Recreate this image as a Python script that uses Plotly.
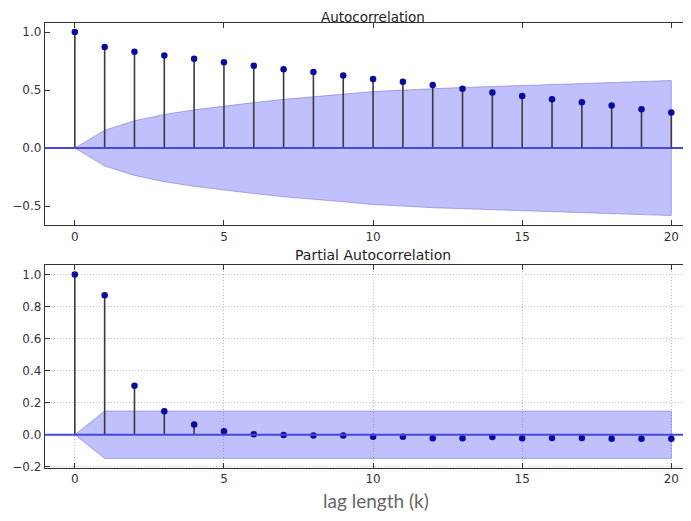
import plotly.graph_objects as go

lags = list(range(21))
acf_vals = [1.0, 0.872, 0.830, 0.798, 0.770, 0.741, 0.710, 0.679, 0.656, 0.625,
            0.596, 0.571, 0.543, 0.511, 0.480, 0.449, 0.420, 0.395, 0.366, 0.335, 0.307]
acf_band = [0.0, 0.154, 0.236, 0.290, 0.330, 0.364, 0.392, 0.420, 0.443, 0.463,
            0.487, 0.500, 0.514, 0.523, 0.531, 0.540, 0.548, 0.557, 0.565, 0.574, 0.582]
pacf_vals = [1.0, 0.870, 0.305, 0.146, 0.064, 0.021, 0.003, -0.002, -0.005, -0.005,
             -0.013, -0.012, -0.022, -0.022, -0.014, -0.022, -0.020, -0.020, -0.026, -0.026, -0.026]
pacf_band = [0.0] + [0.148] * 20

# the page body has an 8px margin; the figure fills the rest of the window
OFF = 8
W, H = 691 - OFF, 521 - OFF
BAND_FILL = "rgba(70,70,250,0.34)"
BAND_LINE = "rgba(90,90,200,0.45)"
STEM = "#3a3a3a"
DOT = "#0a0aa0"
ZERO = "#4848d8"


def px_x(p):
    return (p - OFF) / W


def px_y(p):
    return 1 - (p - OFF) / H


fig = go.Figure()


def add_panel(vals, band, xa, ya):
    fig.add_trace(go.Scatter(
        x=lags + lags[::-1], y=band + [-b for b in band[::-1]],
        fill="toself", fillcolor=BAND_FILL, mode="lines",
        line=dict(color=BAND_LINE, width=1), xaxis=xa, yaxis=ya,
        hoverinfo="skip", showlegend=False))
    sx, sy = [], []
    for k, v in zip(lags, vals):
        sx += [k, k, None]
        sy += [0, v, None]
    fig.add_trace(go.Scatter(x=sx, y=sy, mode="lines",
                             line=dict(color=STEM, width=1.6),
                             xaxis=xa, yaxis=ya, showlegend=False))
    fig.add_trace(go.Scatter(x=lags, y=vals, mode="markers",
                             marker=dict(color=DOT, size=6.5),
                             xaxis=xa, yaxis=ya, showlegend=False))


add_panel(acf_vals, acf_band, "x", "y")
add_panel(pacf_vals, pacf_band, "x2", "y2")

axis_common = dict(showline=True, linecolor="#333", linewidth=1.3,
                   ticks="inside", ticklen=5, tickcolor="#333", tickwidth=1,
                   tickfont=dict(family="DejaVu Sans", size=12, color="#333"),
                   zeroline=False)

x_range = [-1, 20.66]
x_dom = [px_x(45), 1.0]
GRID = "#b8b8b8"
GRID_DASH = "1px,2px"

fig.update_layout(
    width=W, height=H,
    margin=dict(l=0, r=0, t=0, b=0),
    paper_bgcolor="white", plot_bgcolor="white",
    xaxis=dict(domain=x_dom, range=x_range, anchor="y", mirror="ticks",
               tickvals=[0, 5, 10, 15, 20], showgrid=False, **axis_common),
    yaxis=dict(domain=[px_y(228), px_y(23)], range=[-0.667, 1.08], anchor="x",
               tickvals=[-0.5, 0.0, 0.5, 1.0], tickformat=".1f", showgrid=False,
               **axis_common),
    xaxis2=dict(domain=x_dom, range=x_range, anchor="y2", mirror="ticks",
                tickvals=[0, 5, 10, 15, 20], showgrid=True, gridcolor=GRID,
                griddash=GRID_DASH, gridwidth=1, **axis_common),
    yaxis2=dict(domain=[px_y(473.3), px_y(268.3)], range=[-0.207, 1.058], anchor="x2",
                tickvals=[-0.2, 0.0, 0.2, 0.4, 0.6, 0.8, 1.0], tickformat=".1f",
                showgrid=True, gridcolor=GRID, griddash=GRID_DASH, gridwidth=1,
                **axis_common),
    shapes=[
        dict(type="line", xref="x domain", yref="y", x0=0, x1=1, y0=0, y1=0,
             line=dict(color=ZERO, width=2), layer="above"),
        dict(type="line", xref="x2 domain", yref="y2", x0=0, x1=1, y0=0, y1=0,
             line=dict(color=ZERO, width=2), layer="above"),
    ],
    annotations=[
        dict(text="Autocorrelation", xref="paper", yref="paper",
             x=px_x(373), y=1.0, showarrow=False, xanchor="center", yanchor="top",
             borderpad=0, font=dict(family="DejaVu Sans", size=13.5, color="#222")),
        dict(text="Partial Autocorrelation", xref="paper", yref="paper",
             x=px_x(373), y=px_y(258), showarrow=False, xanchor="center", yanchor="middle",
             font=dict(family="DejaVu Sans", size=14, color="#222")),
        dict(text="lag length (k)", xref="paper", yref="paper",
             x=px_x(376), y=px_y(506), showarrow=False, xanchor="center", yanchor="middle",
             font=dict(family="Lato", size=19, color="#666")),
    ],
)

fig.write_html("out.html")
